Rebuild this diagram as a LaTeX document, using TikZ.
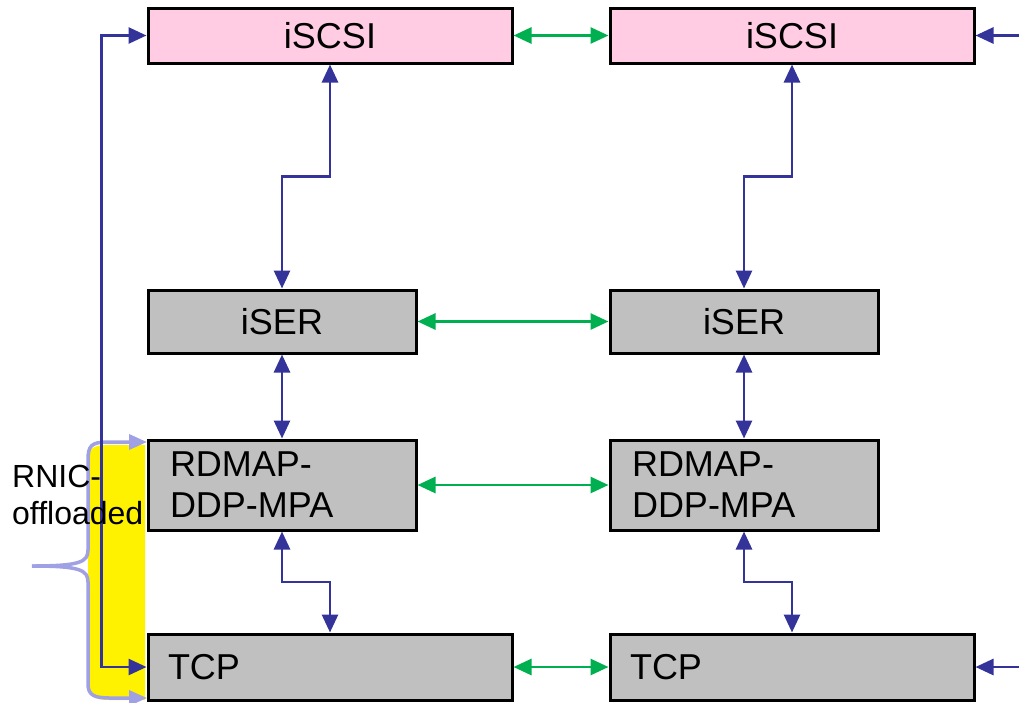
\documentclass[tikz,border=0pt]{standalone}
\usepackage{fontspec}
\setmainfont{Liberation Sans}
\usetikzlibrary{arrows.meta, calc, positioning}

\definecolor{layerpink}{RGB}{255,204,228}
\definecolor{layergray}{RGB}{192,192,192}
\definecolor{linkblue}{RGB}{51,51,153}
\definecolor{peergreen}{RGB}{0,176,80}
\definecolor{bracelav}{RGB}{160,160,228}

\begin{document}
\begin{tikzpicture}[x=1pt,y=-1pt,
  layer/.style={draw=black, line width=3pt, fill=layergray, inner sep=0pt,
    font=\fontsize{36}{41}\selectfont},
  widelayer/.style={layer, minimum width=364pt, minimum height=55pt},
  narrowlayer/.style={layer, minimum width=268pt, minimum height=63pt},
  link/.style={draw=linkblue, line width=2.8pt,
    arrows={Triangle[length=18pt,width=16pt]-Triangle[length=18pt,width=16pt]}},
  feed/.style={draw=linkblue, line width=2.8pt, -{Triangle[length=18pt,width=16pt]}},
  peer/.style={draw=peergreen, line width=2.8pt,
    arrows={Triangle[length=18pt,width=16pt]-Triangle[length=18pt,width=16pt]}}]
\useasboundingbox (0,0) rectangle (1019,702);

% offload bracket behind the left stack
\fill[yellow] (145,445) -- (108,445) .. controls (92,445) and (88,449) .. (88,462)
  -- (88,686) .. controls (88,696) and (94,700) .. (110,700) -- (145,700) -- cycle;
\draw[bracelav, line width=3.5pt, arrows={Triangle[length=18pt,width=15pt]-}]
  (147,442) -- (108,442) .. controls (91,442) and (88,446) .. (88,460)
  -- (88,550) .. controls (88,562) and (80,566) .. (32,566);
\draw[bracelav, line width=3.5pt, arrows={-Triangle[length=18pt,width=15pt]}]
  (32,566) .. controls (80,566) and (88,570) .. (88,582)
  -- (88,684) .. controls (88,695) and (94,698) .. (110,698) -- (147,698);

% two stacks
\node[widelayer, fill=layerpink] (iscsiL) at (330,35.5) {iSCSI};
\node[widelayer, fill=layerpink] (iscsiR) at (792,35.5) {iSCSI};
\node[narrowlayer] (iserL) at (282,321.5) {iSER};
\node[narrowlayer] (iserR) at (744,321.5) {iSER};
\node[narrowlayer, minimum height=90pt, text width=224pt, align=left] (rdmaL) at (282,485) {RDMAP-\\DDP-MPA};
\node[narrowlayer, minimum height=90pt, text width=224pt, align=left] (rdmaR) at (744,485) {RDMAP-\\DDP-MPA};
\node[widelayer, minimum height=66pt, text width=324pt, align=left] (tcpL) at (330,667) {TCP};
\node[widelayer, minimum height=66pt, text width=324pt, align=left] (tcpR) at (792,667) {TCP};

% down each stack
\draw[link] (iscsiL.south) |- ($(iscsiL.south)!.5!(iserL.north)$) -| (iserL.north);
\draw[link] (iscsiR.south) |- ($(iscsiR.south)!.5!(iserR.north)$) -| (iserR.north);
\draw[link] (iserL.south) -- (rdmaL.north);
\draw[link] (iserR.south) -- (rdmaR.north);
\draw[link] (rdmaL.south) |- ($(rdmaL.south)!.5!(tcpL.north)$) -| (tcpL.north);
\draw[link] (rdmaR.south) |- ($(rdmaR.south)!.5!(tcpR.north)$) -| (tcpR.north);

% peer to peer
\draw[peer] (iscsiL.east) -- (iscsiR.west);
\draw[peer] (iserL.east) -- (iserR.west);
\draw[peer] (rdmaL.east) -- (rdmaR.west);
\draw[peer] (tcpL.east) -- (tcpR.west);

% side feeds
\draw[link] (iscsiL.west) -- ++(-45,0) |- (tcpL.west);
\coordinate (feedtop) at ($(iscsiR.east)+(46,0)$);
\coordinate (feedbot) at ($(tcpR.east)+(46,0)$);
\draw[feed] (feedtop) -- (iscsiR.east);
\draw[feed] (feedbot) -- (tcpR.east);

\node[anchor=west, align=left, inner sep=0pt, font=\fontsize{32}{37}\selectfont]
  (rnic) at (12,495) {RNIC-\\offloaded};
\end{tikzpicture}
\end{document}
